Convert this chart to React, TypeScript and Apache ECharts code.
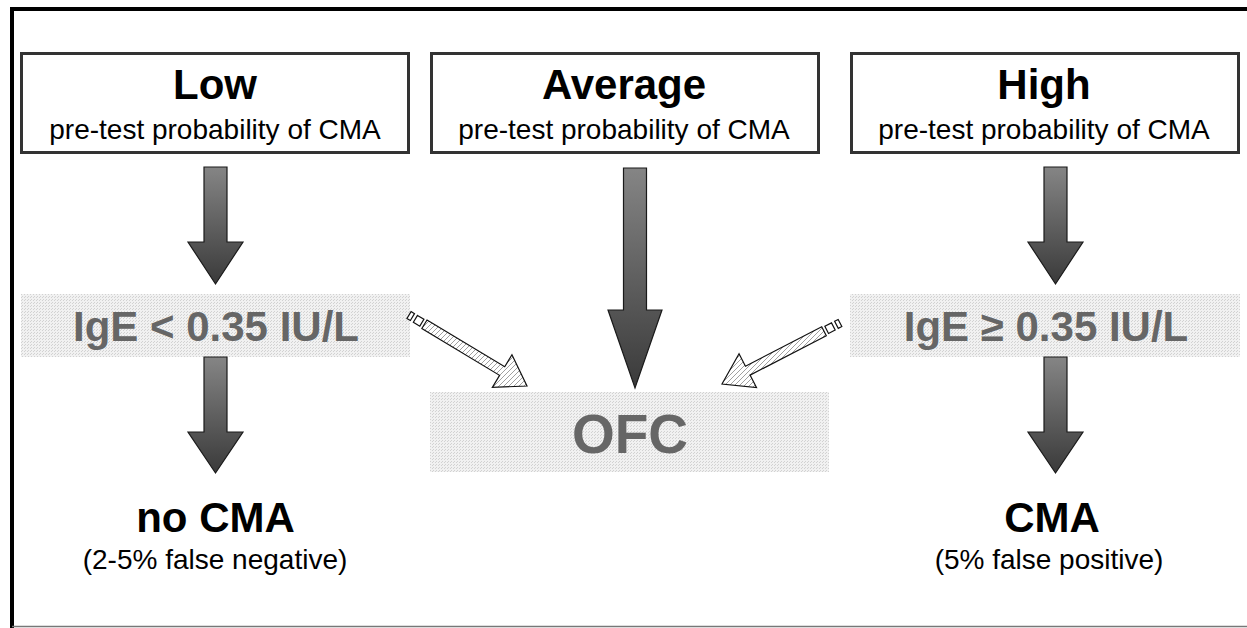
import React, { useEffect, useRef } from "react";
import * as echarts from "echarts";

// ---- content ----
const probabilityLevels = ["Low", "Average", "High"];
const probabilitySubtitle = "pre-test probability of CMA";
const testResults = ["IgE < 0.35 IU/L", "IgE \u2265 0.35 IU/L"];
const challengeLabel = "OFC";
const outcomes = ["no CMA", "CMA"];
const outcomeNotes = ["(2-5% false negative)", "(5% false positive)"];

const FONT = "'Liberation Sans', Arial, Helvetica, sans-serif";

function makeTile(w: number, h: number, draw: (ctx: CanvasRenderingContext2D) => void): string {
  const c = document.createElement("canvas");
  c.width = w;
  c.height = h;
  const ctx = c.getContext("2d")!;
  draw(ctx);
  return c.toDataURL();
}

function darkArrow(cx: number, yTop: number, yHead: number, yTip: number, shaftW: number, headW: number) {
  const s = shaftW / 2;
  const h = headW / 2;
  return {
    type: "polygon",
    shape: {
      points: [
        [cx - s, yTop],
        [cx + s, yTop],
        [cx + s, yHead],
        [cx + h, yHead],
        [cx, yTip],
        [cx - h, yHead],
        [cx - s, yHead],
      ],
    },
    style: {
      fill: {
        type: "linear",
        x: 0,
        y: 0,
        x2: 0,
        y2: 1,
        colorStops: [
          { offset: 0, color: "#858585" },
          { offset: 1, color: "#3a3a3a" },
        ],
      },
      stroke: "#1a1a1a",
      lineWidth: 1.2,
    },
  };
}

function hatchedArrow(x0: number, y0: number, x1: number, y1: number, hatch: any) {
  const dx = x1 - x0;
  const dy = y1 - y0;
  const L = Math.hypot(dx, dy);
  const ux = dx / L;
  const uy = dy / L;
  const nx = -uy;
  const ny = ux;
  const P = (t: number, w: number) => [x0 + ux * t + nx * w, y0 + uy * t + ny * w];
  const sw = 5;
  const hw = 19;
  const hl = 29;
  const st = { fill: "#ffffff", stroke: "#111", lineWidth: 1.2 };
  const els: any[] = [];
  const squares = [
    [0, 4],
    [7.5, 15],
  ];
  squares.forEach(([a, b]) => {
    els.push({
      type: "polygon",
      shape: { points: [P(a, -sw + 1), P(b, -sw + 1), P(b, sw - 1), P(a, sw - 1)] },
      style: st,
    });
  });
  els.push({
    type: "polygon",
    shape: {
      points: [
        P(18, -sw),
        P(L - hl, -sw),
        P(L - hl, -hw),
        P(L, 0),
        P(L - hl, hw),
        P(L - hl, sw),
        P(18, sw),
      ],
    },
    style: { fill: hatch, stroke: "#111", lineWidth: 1.2 },
  });
  return els;
}

export default function App() {
  const ref = useRef<HTMLDivElement>(null);

  useEffect(() => {
    if (!ref.current) return;
    const chart = echarts.init(ref.current, null, { renderer: "svg" });

    const dotUrl = makeTile(3, 3, (ctx) => {
      ctx.fillStyle = "#f1f1f1";
      ctx.fillRect(0, 0, 3, 3);
      ctx.fillStyle = "#d2d2d2";
      ctx.fillRect(0, 0, 1, 1);
      ctx.fillRect(1, 2, 1, 1);
    });
    const hatchUrl = makeTile(5, 5, (ctx) => {
      ctx.fillStyle = "#ffffff";
      ctx.fillRect(0, 0, 5, 5);
      ctx.fillStyle = "#a0a0a0";
      ctx.fillRect(0, 4, 1, 1);
      ctx.fillRect(1, 3, 1, 1);
      ctx.fillRect(2, 2, 1, 1);
      ctx.fillRect(3, 1, 1, 1);
      ctx.fillRect(4, 0, 1, 1);
    });
    const dots = { image: dotUrl, repeat: "repeat", imageWidth: 3, imageHeight: 3 };
    const hatch = { image: hatchUrl, repeat: "repeat", imageWidth: 5, imageHeight: 5 };

    const elements: any[] = [];

    // frame
    elements.push({ type: "line", shape: { x1: 10, y1: 9, x2: 1247, y2: 9 }, style: { stroke: "#000", lineWidth: 4 } });
    elements.push({ type: "line", shape: { x1: 12, y1: 7, x2: 12, y2: 628 }, style: { stroke: "#000", lineWidth: 4 } });
    elements.push({ type: "line", shape: { x1: 12, y1: 626.5, x2: 1247, y2: 626.5 }, style: { stroke: "#777", lineWidth: 1.5 } });

    // top boxes
    const boxes = [
      { x: 21.5, cx: 215 },
      { x: 431.5, cx: 624 },
      { x: 851.5, cx: 1044 },
    ];
    boxes.forEach((b, i) => {
      elements.push({
        type: "rect",
        shape: { x: b.x, y: 53.5, width: 387, height: 99 },
        style: { fill: "#fff", stroke: "#333", lineWidth: 3 },
      });
      elements.push({
        type: "text",
        x: b.cx,
        y: 84,
        style: { text: probabilityLevels[i], fontFamily: FONT, fontSize: 42, fontWeight: "bold", fill: "#000", align: "center", verticalAlign: "middle" },
      });
      elements.push({
        type: "text",
        x: b.cx,
        y: 129,
        style: { text: probabilitySubtitle, fontFamily: FONT, fontSize: 28, fill: "#000", align: "center", verticalAlign: "middle" },
      });
    });

    // dotted boxes
    const dotted = [
      { x: 21, y: 294, w: 389, h: 63 },
      { x: 850, y: 294, w: 390, h: 63 },
      { x: 430, y: 392, w: 399, h: 80 },
    ];
    dotted.forEach((d) => {
      elements.push({ type: "rect", shape: { x: d.x, y: d.y, width: d.w, height: d.h }, style: { fill: "#e6e6e6" } });
      elements.push({ type: "rect", shape: { x: d.x, y: d.y, width: d.w, height: d.h }, style: { fill: dots } });
    });

    elements.push({
      type: "text",
      x: 216,
      y: 326.5,
      style: { text: testResults[0], fontFamily: FONT, fontSize: 42, fontWeight: "bold", fill: "#666", align: "center", verticalAlign: "middle" },
    });
    elements.push({
      type: "text",
      x: 1046,
      y: 326.5,
      style: { text: testResults[1], fontFamily: FONT, fontSize: 42, fontWeight: "bold", fill: "#666", align: "center", verticalAlign: "middle" },
    });
    elements.push({
      type: "text",
      x: 630,
      y: 434,
      style: { text: challengeLabel, fontFamily: FONT, fontSize: 55, fontWeight: "bold", fill: "#666", align: "center", verticalAlign: "middle" },
    });

    // dark arrows
    elements.push(darkArrow(215.5, 167, 242, 284, 23, 55));
    elements.push(darkArrow(215.5, 357, 432, 473, 23, 55));
    elements.push(darkArrow(635, 168, 310, 388, 23, 54));
    elements.push(darkArrow(1055.5, 167, 242, 284, 23, 55));
    elements.push(darkArrow(1055.5, 357, 432, 473, 23, 55));

    // hatched arrows
    elements.push(...hatchedArrow(409, 315, 527, 386, hatch));
    elements.push(...hatchedArrow(840, 323, 722, 384, hatch));

    // outcomes
    elements.push({
      type: "text",
      x: 215.5,
      y: 517,
      style: { text: outcomes[0], fontFamily: FONT, fontSize: 42, fontWeight: "bold", fill: "#000", align: "center", verticalAlign: "middle" },
    });
    elements.push({
      type: "text",
      x: 215,
      y: 559,
      style: { text: outcomeNotes[0], fontFamily: FONT, fontSize: 28, fill: "#000", align: "center", verticalAlign: "middle" },
    });
    elements.push({
      type: "text",
      x: 1052,
      y: 517,
      style: { text: outcomes[1], fontFamily: FONT, fontSize: 42, fontWeight: "bold", fill: "#000", align: "center", verticalAlign: "middle" },
    });
    elements.push({
      type: "text",
      x: 1049,
      y: 559,
      style: { text: outcomeNotes[1], fontFamily: FONT, fontSize: 28, fill: "#000", align: "center", verticalAlign: "middle" },
    });

    chart.setOption({
      animation: false,
      backgroundColor: "#ffffff",
      graphic: { elements },
    });

    return () => chart.dispose();
  }, []);

  return (
    <div
      ref={ref}
      style={{ position: "fixed", left: 0, top: 0, width: 1247, height: 628, background: "#fff" }}
    />
  );
}
